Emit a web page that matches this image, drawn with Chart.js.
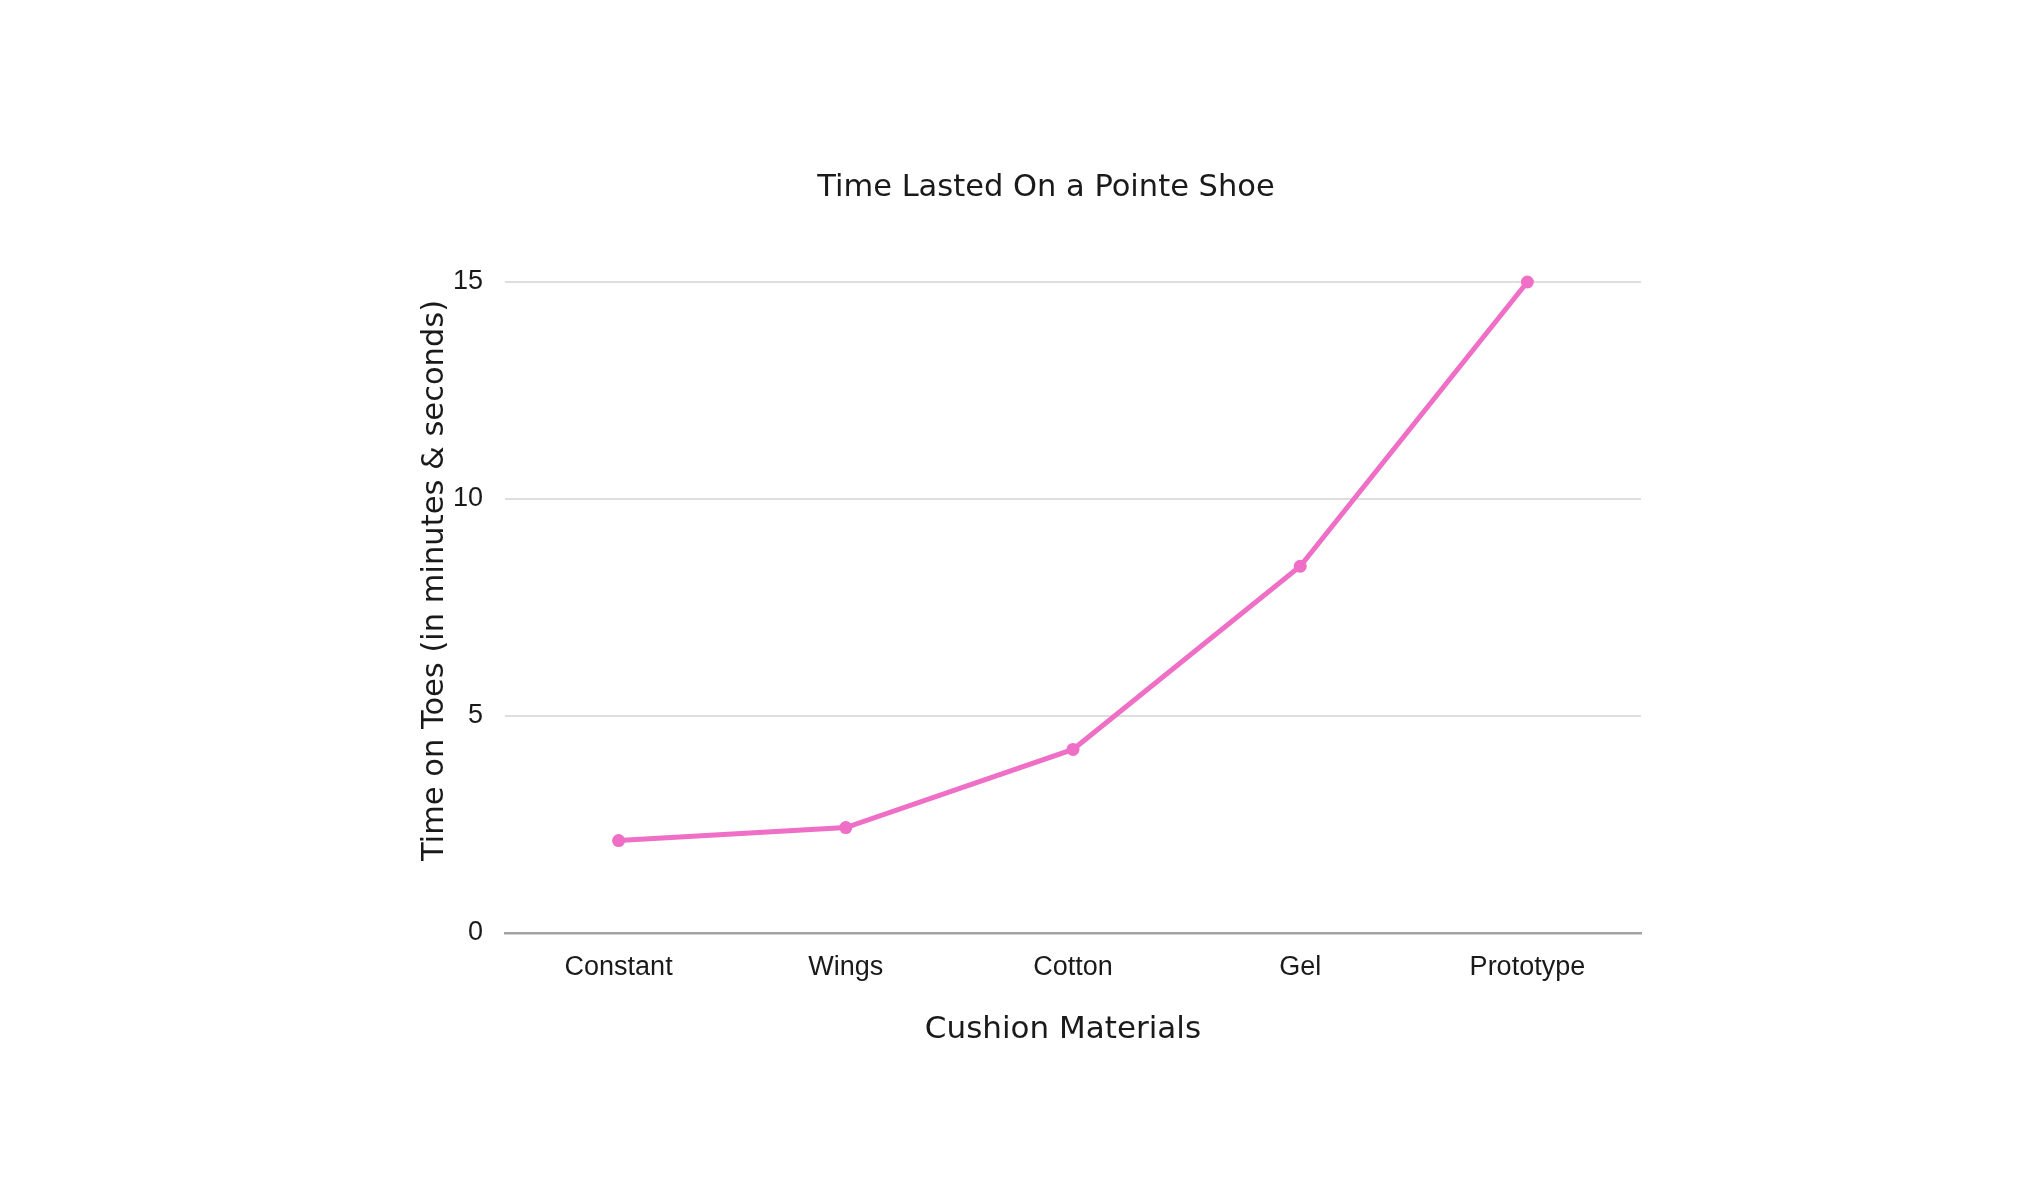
<!DOCTYPE html>
<html>
<head>
<meta charset="utf-8">
<script src="https://cdn.jsdelivr.net/npm/chart.js@4"></script>
<style>
    html, body { margin: 0; padding: 0; background: #ffffff; }
    #wrap { width: 2034px; height: 1193px; }
</style>
</head>
<body>
<div id="wrap"><canvas id="lineChart"></canvas></div>
<script>
// Chart data
const materials = ['Constant', 'Wings', 'Cotton', 'Gel', 'Prototype'];
const timeOnToes = [2.13, 2.43, 4.23, 8.45, 15];
const yTicks = [0, 5, 10, 15];

const chartTitle = 'Time Lasted On a Pointe Shoe';
const xTitle = 'Cushion Materials';
const yTitle = 'Time on Toes (in minutes & seconds)';

const pink = '#ee6fc5';
const textColor = '#1a1a1a';

// Axis titles in the original sit a little off the axis centre, so draw them ourselves
const axisTitles = {
    id: 'axisTitles',
    afterDraw(chart) {
        const { ctx, chartArea } = chart;
        const midX = (chartArea.left + chartArea.right) / 2;
        const midY = (chartArea.top + chartArea.bottom) / 2;
        ctx.save();
        ctx.fillStyle = textColor;
        ctx.textAlign = 'center';
        ctx.textBaseline = 'middle';

        ctx.font = '31px "DejaVu Sans"';
        ctx.fillText(xTitle, midX - 10, chartArea.bottom + 97);

        ctx.translate(chartArea.left - 70, midY - 27);
        ctx.rotate(-Math.PI / 2);
        ctx.font = '30.5px "DejaVu Sans"';
        ctx.fillText(yTitle, 0, 0);
        ctx.restore();
    }
};

const container = document.getElementById('lineChart');

new Chart(container, {
    type: 'line',
    data: {
        labels: materials,
        datasets: [{
            label: 'Time on Toes',
            data: timeOnToes,
            borderColor: pink,
            backgroundColor: pink,
            borderWidth: 5,
            pointRadius: 6.5,
            pointBorderWidth: 0,
            pointHoverRadius: 6.5,
            tension: 0,
            clip: false,
            yAxisID: 'y'
        }]
    },
    options: {
        responsive: true,
        maintainAspectRatio: false,
        animation: false,
        devicePixelRatio: 1,
        layout: {
            padding: { top: 170, bottom: 147, left: 413, right: 355 }
        },
        plugins: {
            legend: { display: false },
            tooltip: { enabled: false },
            title: {
                display: true,
                text: chartTitle,
                color: textColor,
                font: { family: 'DejaVu Sans', size: 30.5, weight: 'normal' },
                padding: { top: 0, bottom: 75.4 }
            }
        },
        scales: {
            x: {
                offset: true,
                afterFit: axis => { axis.height = 113; },
                grid: { display: false, drawTicks: false },
                border: { display: true, color: '#a3a3a3', width: 2.5 },
                ticks: {
                    color: textColor,
                    padding: 18,
                    maxRotation: 0,
                    font: { family: 'Liberation Sans', size: 27 }
                }
            },
            y: {
                min: 0,
                max: 15,
                afterFit: axis => { axis.width = 92; },
                afterBuildTicks: axis => {
                    axis.ticks = yTicks.map(v => ({ value: v }));
                },
                grid: {
                    color: '#dedede',
                    lineWidth: 2,
                    drawTicks: false
                },
                border: { display: false },
                ticks: {
                    color: textColor,
                    padding: 22,
                    font: { family: 'Liberation Sans', size: 27 }
                }
            },
            // empty right-hand axis, only keeps the plot narrower than the title box
            yRight: {
                position: 'right',
                afterFit: axis => { axis.width = 38; },
                grid: { display: false, drawOnChartArea: false },
                border: { display: false },
                ticks: { display: false }
            }
        }
    },
    plugins: [axisTitles]
});
</script>
</body>
</html>
